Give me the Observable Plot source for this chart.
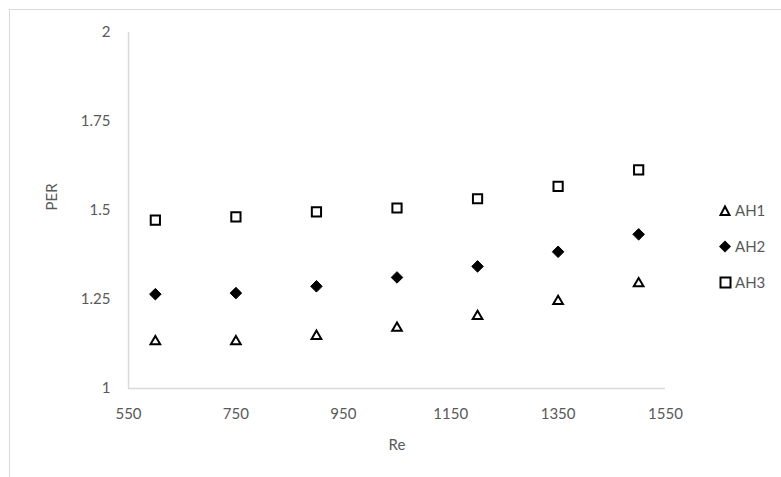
<!DOCTYPE html>
<html>
<head>
<meta charset="utf-8">
<script src="https://cdn.jsdelivr.net/npm/d3@7"></script>
<script src="https://cdn.jsdelivr.net/npm/@observablehq/plot@0.6"></script>
<style>
  body { margin: 0; background: #fff; }
  #wrap { position: relative; width: 781px; height: 477px; overflow: hidden; font-family: Lato, "Open Sans", sans-serif; }
  #border { position: absolute; left: 9px; top: 9px; width: 800px; height: 500px; border-top: 1.5px solid #d9d9d9; border-left: 1.5px solid #d9d9d9; }
  #chart { position: absolute; left: 0; top: 0; }
  #legend { position: absolute; left: 719px; top: 198px; font-size: 15px; color: #595959; }
  .item { display: flex; align-items: center; height: 24px; margin-bottom: 12px; }
  .item svg { margin-right: 3px; }
</style>
</head>
<body>
<div id="wrap">
  <div id="border"></div>
  <div id="chart"></div>
  <div id="legend"></div>
</div>
<script>
const re = [600, 750, 900, 1050, 1200, 1350, 1500];
const ah1 = [1.132, 1.132, 1.147, 1.170, 1.203, 1.245, 1.295];
const ah2 = [1.265, 1.268, 1.287, 1.312, 1.343, 1.384, 1.433];
const ah3 = [1.473, 1.482, 1.496, 1.507, 1.533, 1.568, 1.614];
const seriesNames = ["AH1", "AH2", "AH3"];
const xTicks = [550, 750, 950, 1150, 1350, 1550];
const yTicks = [1, 1.25, 1.5, 1.75, 2];

const rows = (vals, name) => re.map((r, i) => ({re: r, per: vals[i], s: name}));
const d1 = rows(ah1, "AH1"), d2 = rows(ah2, "AH2"), d3s = rows(ah3, "AH3");

const gray = "#595959", axisCol = "#d9d9d9";

const chart = Plot.plot({
  width: 781,
  height: 477,
  marginLeft: 128,
  marginRight: 116,
  marginTop: 32,
  marginBottom: 89,
  style: {fontFamily: "Lato, 'Open Sans', sans-serif", fontSize: "15px", color: gray, background: "transparent"},
  x: {domain: [550, 1550], ticks: xTicks, tickFormat: d => String(d), tickSize: 0, tickPadding: 20, label: null},
  y: {domain: [1, 2], ticks: yTicks, tickFormat: d => String(d), tickSize: 0, tickPadding: 18, label: null},
  marks: [
    Plot.ruleY([1], {stroke: axisCol, strokeWidth: 1.5}),
    Plot.ruleX([550], {stroke: axisCol, strokeWidth: 1.5}),
    Plot.dot(d1, {x: "re", y: "per", symbol: "triangle", r: 3.6, fill: "none", stroke: "#000", strokeWidth: 2}),
    Plot.dot(d2, {x: "re", y: "per", symbol: "diamond2", r: 5.2, fill: "#000", stroke: "#000", strokeWidth: 1}),
    Plot.dot(d3s, {x: "re", y: "per", symbol: "square", r: 5.2, fill: "none", stroke: "#000", strokeWidth: 2}),
    Plot.text(["Re"], {frameAnchor: "bottom", dy: 61, fontSize: 15, fill: gray}),
    Plot.text(["PER"], {frameAnchor: "left", dx: -76, rotate: -90, fontSize: 15, fill: gray})
  ]
});
document.getElementById("chart").appendChild(chart);

// legend
const sym = {
  AH1: '<polygon points="6,2.5 10.5,11 1.5,11" fill="none" stroke="#000" stroke-width="2"/>',
  AH2: '<polygon points="6,0.5 12,6.5 6,12.5 0,6.5" fill="#000"/>',
  AH3: '<rect x="1.5" y="1.5" width="10" height="10" fill="none" stroke="#000" stroke-width="2"/>'
};
const legend = document.getElementById("legend");
seriesNames.forEach(n => {
  const div = document.createElement("div");
  div.className = "item";
  div.innerHTML = `<svg width="13" height="13">${sym[n]}</svg><span>${n}</span>`;
  legend.appendChild(div);
});
</script>
</body>
</html>
